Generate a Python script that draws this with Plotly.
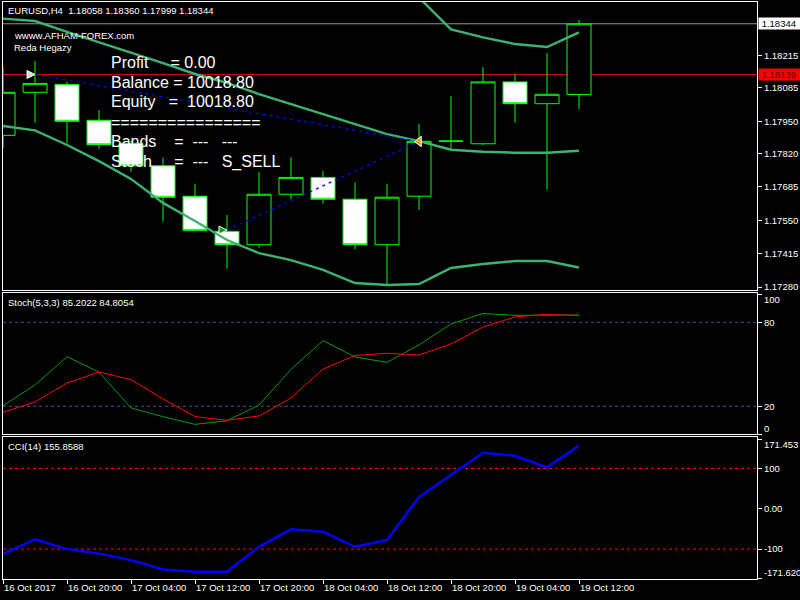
import plotly.graph_objects as go

# ---------------- data ----------------
bars = list(range(19))
time_tick_bars = [0, 2, 4, 6, 8, 10, 12, 14, 16, 18]
time_tick_labels = ["16 Oct 2017", "16 Oct 20:00", "17 Oct 04:00", "17 Oct 12:00", "17 Oct 20:00",
                    "18 Oct 04:00", "18 Oct 12:00", "18 Oct 20:00", "19 Oct 04:00", "19 Oct 12:00"]

opens  = [1.17893, 1.18067, 1.18099, 1.17954, 1.17861, 1.17770, 1.17647, 1.17505, 1.17451, 1.17655,
          1.17723, 1.17635, 1.17451, 1.17647, 1.17869, 1.17859, 1.18109, 1.18021, 1.18058]
highs  = [1.18170, 1.18194, 1.18110, 1.17995, 1.17870, 1.17803, 1.17696, 1.17571, 1.17745, 1.17805,
          1.17749, 1.17703, 1.17696, 1.17939, 1.18052, 1.18169, 1.18141, 1.18226, 1.18360]
lows   = [1.17841, 1.17944, 1.17861, 1.17839, 1.17746, 1.17544, 1.17508, 1.17354, 1.17439, 1.17635,
          1.17617, 1.17432, 1.17288, 1.17592, 1.17838, 1.17855, 1.17944, 1.17673, 1.17999]
closes = [1.18067, 1.18103, 1.17950, 1.17855, 1.17770, 1.17643, 1.17509, 1.17451, 1.17655, 1.17723,
          1.17635, 1.17451, 1.17643, 1.17869, 1.17870, 1.18109, 1.18021, 1.18059, 1.18344]

band_mid = [1.18365, 1.18355, 1.18311, 1.18270, 1.18226, 1.18185, 1.18141, 1.18105, 1.18060, 1.18020,
            1.17979, 1.17939, 1.17898, 1.17870, 1.17835, 1.17827, 1.17823, 1.17823, 1.17831]
band_low = [1.17931, 1.17913, 1.17854, 1.17789, 1.17717, 1.17620, 1.17547, 1.17470, 1.17417, 1.17389,
            1.17349, 1.17296, 1.17288, 1.17292, 1.17357, 1.17373, 1.17385, 1.17385, 1.17359]
band_up_bars = [11, 12, 13, 14, 15, 16, 17, 18]
band_up = [1.18582, 1.18509, 1.18450, 1.18321, 1.18289, 1.18262, 1.18250, 1.18309]

trade1_bars = [1, 13]
trade1_price = [1.18139, 1.17868]
trade2_bars = [7, 13]
trade2_price = [1.17510, 1.17868]

bid_price = 1.18344
level_price = 1.18139
price_ticks = [1.18215, 1.18085, 1.17950, 1.17820, 1.17685, 1.17550, 1.17415, 1.17280]

stoch_k = [20.4, 35.2, 55.4, 44.5, 18.8, 12.6, 7.1, 9.7, 20.9, 46.4,
           66.9, 55.2, 51.4, 63.8, 78.8, 86.3, 85.0, 85.2, 85.2022]
stoch_d = [15.7, 23.1, 36.6, 44.5, 39.1, 25.2, 12.7, 10.0, 13.1, 25.9,
           46.6, 56.3, 57.9, 56.6, 64.5, 76.6, 83.8, 85.7, 84.8054]
stoch_levels = [80, 20]
stoch_mid_ticks = [80, 20]
stoch_top, stoch_bottom = 100, 0

cci = [-112.4, -76.0, -100.0, -111.2, -127.3, -150.3, -156.3, -156.3, -94.3, -51.2,
       -57.1, -94.3, -77.7, 28.9, 83.4, 138.7, 131.2, 102.5, 155.8588]
cci_levels = [100, -100]
cci_mid_ticks = [100, 0, -100]
cci_mid_text = ["100", "0.00", "-100"]
cci_top, cci_bottom = 171.453, -171.6208

info_lines = [
    "Profit\u00a0\u00a0\u00a0\u00a0\u00a0=\u00a00.00",
    "Balance\u00a0=\u00a010018.80",
    "Equity\u00a0\u00a0\u00a0=\u00a0\u00a010018.80",
    "================",
    "Bands\u00a0\u00a0\u00a0\u00a0=\u00a0\u00a0---\u00a0\u00a0\u00a0---",
    "Stoch\u00a0\u00a0\u00a0\u00a0\u00a0=\u00a0\u00a0---\u00a0\u00a0\u00a0S_SELL",
]

# ---------------- layout helpers (pixel -> paper) ----------------
W, H = 800, 600
ML, MR, MT, MB = 3, 43, 2, 21
PW, PH = W - ML - MR, H - MT - MB
def px_x(x):
    return (x - ML) / PW
def px_y(y):
    return (H - MB - y) / PH

FONT = "Liberation Sans, Arial, sans-serif"
SMALL = 9.5

fig = go.Figure()

fig.add_trace(go.Candlestick(
    x=bars, open=opens, high=highs, low=lows, close=closes,
    xaxis="x", yaxis="y",
    increasing=dict(line=dict(color="#00FF00", width=1), fillcolor="#000000"),
    decreasing=dict(line=dict(color="#00FF00", width=1), fillcolor="#FFFFFF"),
    whiskerwidth=0, showlegend=False, hoverinfo="skip"))

for xs, ys in [(bars, band_mid), (bars, band_low), (band_up_bars, band_up)]:
    fig.add_trace(go.Scatter(x=xs, y=ys, mode="lines", xaxis="x", yaxis="y",
                             line=dict(color="#3CB371", width=2.4), showlegend=False, hoverinfo="skip"))

for xs, ys in [(trade1_bars, trade1_price), (trade2_bars, trade2_price)]:
    fig.add_trace(go.Scatter(x=xs, y=ys, mode="lines", xaxis="x", yaxis="y",
                             line=dict(color="#0000FF", width=1.3, dash="3px,4px"),
                             showlegend=False, hoverinfo="skip"))

fig.add_trace(go.Scatter(x=[trade1_bars[0], trade2_bars[0]], y=[trade1_price[0], trade2_price[0]],
                         mode="markers", xaxis="x", yaxis="y",
                         marker=dict(symbol="arrow-right", size=8, color=["#D0E0D0", "#00A000"],
                                     line=dict(color="white", width=1)),
                         showlegend=False, hoverinfo="skip"))
fig.add_trace(go.Scatter(x=[trade1_bars[1]], y=[trade1_price[1]], mode="markers", xaxis="x", yaxis="y",
                         marker=dict(symbol="triangle-left", size=9, color="#DAA520",
                                     line=dict(color="white", width=1)),
                         showlegend=False, hoverinfo="skip"))

fig.add_trace(go.Scatter(x=bars, y=stoch_k, mode="lines", xaxis="x2", yaxis="y2",
                         line=dict(color="#00A000", width=1), showlegend=False, hoverinfo="skip"))
fig.add_trace(go.Scatter(x=bars, y=stoch_d, mode="lines", xaxis="x2", yaxis="y2",
                         line=dict(color="#FF0000", width=1), showlegend=False, hoverinfo="skip"))

fig.add_trace(go.Scatter(x=bars, y=cci, mode="lines", xaxis="x3", yaxis="y3",
                         line=dict(color="#0000FF", width=2.5), showlegend=False, hoverinfo="skip"))

# invisible carriers so the edge-label overlay axes get drawn
for xa, ya, ys in [("x2", "y4", stoch_k), ("x2", "y5", stoch_k), ("x3", "y6", cci), ("x3", "y7", cci)]:
    fig.add_trace(go.Scatter(x=bars, y=ys, mode="lines", xaxis=xa, yaxis=ya, opacity=0,
                             line=dict(width=0), showlegend=False, hoverinfo="skip"))

shapes = [
    dict(type="line", xref="x domain", yref="y", x0=0, x1=1, y0=bid_price, y1=bid_price,
         line=dict(color="#8C98A4", width=1), layer="below"),
    dict(type="line", xref="x domain", yref="y", x0=0, x1=1, y0=level_price, y1=level_price,
         line=dict(color="#E00000", width=1), layer="below"),
]
for lv in stoch_levels:
    shapes.append(dict(type="line", xref="x2 domain", yref="y2", x0=0, x1=1, y0=lv, y1=lv,
                       line=dict(color="#4646A8", width=1, dash="3px,3px"), layer="below"))
for lv in cci_levels:
    shapes.append(dict(type="line", xref="x3 domain", yref="y3", x0=0, x1=1, y0=lv, y1=lv,
                       line=dict(color="#FF0000", width=1, dash="3px,3px"), layer="below"))

annotations = []
def add_text(text, x, y, size, color="white"):
    annotations.append(dict(text=text, xref="paper", yref="paper", x=px_x(x), y=px_y(y),
                            xanchor="left", yanchor="middle", showarrow=False, borderpad=0,
                            font=dict(family=FONT, size=size, color=color)))

add_text("EURUSD,H4\u00a0\u00a01.18058 1.18360 1.17999 1.18344", 6.5, 11, SMALL)
add_text("wwww.AFHAM-FOREX.com", 12.5, 36, SMALL)
add_text("Reda Hegazy", 12.5, 48, SMALL)
for k, line in enumerate(info_lines):
    add_text(line, 110, 62 + 20 * k, 16)
add_text("Stoch(5,3,3) 85.2022 84.8054", 6.5, 302, SMALL)
add_text("CCI(14) 155.8588", 6.5, 447, SMALL)

for price, bg, fg in [(bid_price, "#FFFFFF", "#000000"), (level_price, "#FF0000", "#5A0000")]:
    annotations.append(dict(text="\u00a0%.5f\u00a0\u00a0\u00a0" % price, xref="paper", yref="y",
                            x=1, y=price, xanchor="left", yanchor="middle", xshift=1,
                            showarrow=False, borderpad=0, bgcolor=bg,
                            font=dict(family=FONT, size=SMALL, color=fg)))

x_range = [0, (W - MR - ML) / 32.0]
axis_common = dict(showgrid=False, zeroline=False, showline=True, linecolor="white",
                   linewidth=1, mirror=True, automargin=False)
tickfont = dict(family=FONT, size=SMALL, color="white")
tick_common = dict(ticks="outside", ticklen=4, tickcolor="white", tickfont=tickfont, tickmode="array")

main_dom = [px_y(289.5), 1.0]
stoch_dom = [px_y(434.3), px_y(293)]
cci_dom = [0.0, px_y(437)]
stoch_range = [0, 100.93]
cci_range = [-174.1, 177.65]

def edge_axis(base, anchor, rng, val, text, shift):
    return dict(overlaying=base, anchor=anchor, side="right", range=rng, tickvals=[val], ticktext=[text],
                ticklabelshift=shift, showgrid=False, zeroline=False, showline=False,
                automargin=False, **tick_common)

fig.update_layout(
    width=W, height=H,
    margin=dict(l=ML, r=MR, t=MT, b=MB),
    paper_bgcolor="#000000", plot_bgcolor="#000000",
    showlegend=False,
    boxgap=0.25, boxgroupgap=0,
    xaxis=dict(domain=[0, 1], range=x_range, anchor="y", showticklabels=False, ticks="",
               rangeslider=dict(visible=False), **axis_common),
    xaxis2=dict(domain=[0, 1], matches="x", anchor="y2", showticklabels=False, ticks="", **axis_common),
    xaxis3=dict(domain=[0, 1], matches="x", anchor="y3",
                tickvals=time_tick_bars, ticktext=time_tick_labels, tickangle=0,
                ticklabelposition="outside right", **tick_common, **axis_common),
    yaxis=dict(domain=main_dom, range=[1.17270, 1.18432], anchor="x", side="right",
               tickvals=price_ticks, ticktext=["%.5f" % v for v in price_ticks],
               **tick_common, **axis_common),
    yaxis2=dict(domain=stoch_dom, range=stoch_range, anchor="x2", side="right",
                tickvals=stoch_mid_ticks, ticktext=[str(v) for v in stoch_mid_ticks],
                **tick_common, **axis_common),
    yaxis3=dict(domain=cci_dom, range=cci_range, anchor="x3", side="right",
                tickvals=cci_mid_ticks, ticktext=cci_mid_text,
                **tick_common, **axis_common),
    yaxis4=edge_axis("y2", "x2", stoch_range, stoch_top, str(stoch_top), 5),
    yaxis5=edge_axis("y2", "x2", stoch_range, stoch_bottom, str(stoch_bottom), -6),
    yaxis6=edge_axis("y3", "x3", cci_range, cci_top, "171.453", 5),
    yaxis7=edge_axis("y3", "x3", cci_range, cci_bottom, "-171.6208", -5),
    shapes=shapes,
    annotations=annotations,
)

fig.write_html("out.html", config={"displayModeBar": False},
               post_script="document.body.style.margin='0';document.body.style.overflow='hidden';"
                           "document.body.style.background='#000';")
